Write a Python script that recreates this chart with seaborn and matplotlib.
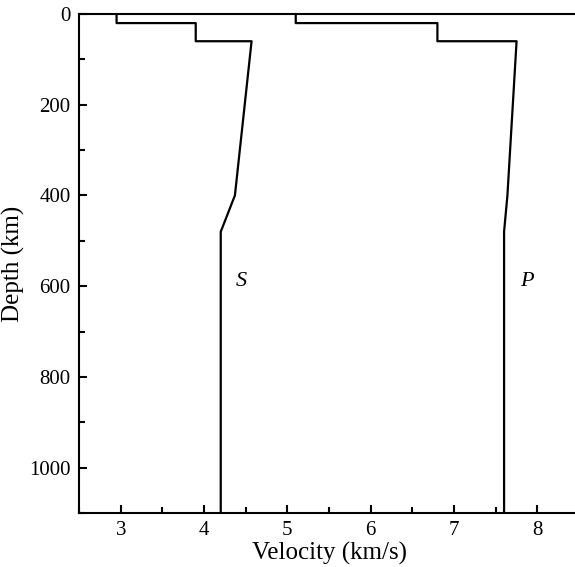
import pandas as pd
import matplotlib
matplotlib.use("Agg")
import matplotlib.pyplot as plt
import seaborn as sns
from matplotlib.ticker import MultipleLocator

# velocity model (layer boundaries repeated for the steps)
depth = [0, 20, 20, 60, 60, 400, 480, 1100]
vs = [2.95, 2.95, 3.90, 3.90, 4.57, 4.37, 4.20, 4.20]
vp = [5.10, 5.10, 6.80, 6.80, 7.75, 7.64, 7.60, 7.60]

df = pd.DataFrame({"depth": depth, "S": vs, "P": vp})

sns.set_style("ticks")
plt.rcParams['font.family'] = ['Liberation Serif', 'DejaVu Serif']
plt.rcParams['text.color'] = 'black'
plt.rcParams['axes.labelcolor'] = 'black'
plt.rcParams['xtick.color'] = 'black'
plt.rcParams['ytick.color'] = 'black'

fig = plt.figure(figsize=(5.75, 5.67), dpi=100)
ax = fig.add_axes([0.1375, 0.0952, 0.8696, 0.8801])

sns.lineplot(data=df, x="S", y="depth", sort=False, estimator=None,
             color="black", linewidth=1.6, ax=ax)
sns.lineplot(data=df, x="P", y="depth", sort=False, estimator=None,
             color="black", linewidth=1.6, ax=ax)

ax.text(4.45, 590, "S", fontsize=16, fontstyle="italic", ha="center", va="center")
ax.text(7.87, 590, "P", fontsize=16, fontstyle="italic", ha="center", va="center")

ax.set_xlim(2.5, 8.5)
ax.set_ylim(1100, 0)
ax.xaxis.set_major_locator(MultipleLocator(1))
ax.xaxis.set_minor_locator(MultipleLocator(0.5))
ax.yaxis.set_major_locator(MultipleLocator(200))
ax.yaxis.set_minor_locator(MultipleLocator(100))
ax.tick_params(which="both", direction="in", width=1.5, labelsize=15, pad=6)
ax.tick_params(which="major", length=6)
ax.tick_params(which="minor", length=4)

for s in ["left", "bottom", "top"]:
    ax.spines[s].set_linewidth(1.5)
    ax.spines[s].set_color("black")
ax.spines["right"].set_visible(False)

ax.set_xlabel("Velocity (km/s)", fontsize=18, labelpad=1)
ax.set_ylabel("Depth (km)", fontsize=18, labelpad=3)

fig.savefig("out.png", dpi=100)
